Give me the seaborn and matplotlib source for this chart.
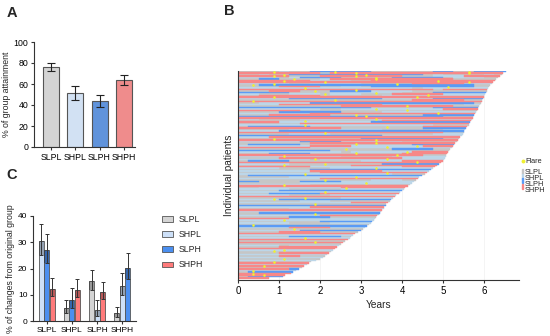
import matplotlib
matplotlib.use("Agg")
import matplotlib.pyplot as plt
from matplotlib.patches import Patch, Rectangle
from matplotlib.lines import Line2D
import numpy as np
import pandas as pd
import seaborn as sns

groups = ["SLPL", "SHPL", "SLPH", "SHPH"]
bar_colors = {"SLPL": "#d4d4d4", "SHPL": "#cde0f8", "SLPH": "#4b8ff0", "SHPH": "#ff7b7b"}
swim_colors = {"g": "#c6c6c6", "l": "#bcd6e8", "b": "#5a9bf5", "r": "#f78888"}
flare_color = "#f0f030"

# A: group attainment
attain_mean = [76, 51, 44, 64]
attain_lo = [72, 45, 38, 59]
attain_hi = [80, 58, 50, 69]

# C: changes from original group
change_from = ["SLPL", "SLPL", "SLPL", "SHPL", "SHPL", "SHPL",
               "SLPH", "SLPH", "SLPH", "SHPH", "SHPH", "SHPH"]
change_to = ["SHPL", "SLPH", "SHPH", "SLPL", "SLPH", "SHPH",
             "SLPL", "SHPL", "SHPH", "SLPL", "SHPL", "SLPH"]
change_mean = [30.5, 27.0, 12.3, 5.0, 8.0, 11.8, 15.2, 4.3, 11.0, 3.0, 13.2, 20.3]
change_lo = [25.0, 22.0, 9.5, 3.0, 5.0, 9.0, 12.0, 2.0, 8.5, 1.5, 10.0, 16.0]
change_hi = [37.0, 33.0, 16.5, 8.0, 12.5, 16.0, 19.5, 8.0, 15.0, 5.3, 18.3, 26.0]

# B: follow-up per patient (years), top to bottom
follow_up = [
    6.53, 6.47, 6.43, 6.38, 6.34, 6.30, 6.27, 6.22, 6.18, 6.15,
    6.12, 6.10, 6.08, 6.06, 6.04, 6.02, 6.00, 5.99, 5.97, 5.96,
    5.94, 5.92, 5.90, 5.88, 5.86, 5.84, 5.82, 5.80, 5.78, 5.76,
    5.74, 5.72, 5.70, 5.68, 5.66, 5.64, 5.62, 5.59, 5.56, 5.53,
    5.51, 5.50, 5.48, 5.45, 5.42, 5.39, 5.36, 5.33, 5.30, 5.27,
    5.24, 5.21, 5.18, 5.15, 5.12, 5.10, 5.08, 5.06, 5.04, 5.02,
    5.00, 4.95, 4.90, 4.85, 4.80, 4.75, 4.70, 4.65, 4.60, 4.55,
    4.48, 4.42, 4.38, 4.35, 4.30, 4.25, 4.20, 4.14, 4.08, 4.04,
    4.00, 3.96, 3.92, 3.86, 3.82, 3.78, 3.74, 3.70, 3.66, 3.62,
    3.60, 3.57, 3.55, 3.52, 3.49, 3.46, 3.43, 3.40, 3.37, 3.34,
    3.31, 3.27, 3.23, 3.20, 3.15, 3.10, 3.05, 3.00, 2.93, 2.86,
    2.80, 2.76, 2.72, 2.67, 2.62, 2.57, 2.52, 2.47, 2.42, 2.36,
    2.32, 2.27, 2.22, 2.17, 2.12, 2.06, 2.00, 1.90, 1.78, 1.72,
    1.68, 1.62, 1.55, 1.48, 1.42, 1.35, 1.28, 1.14, 1.10, 0.76,
]

# state per quarter year: g=SLPL l=SHPL b=SLPH r=SHPH, upper case = flare in that quarter
states = [
    "gggGlggbbBbbbggggggbbgGbbb", "rrrrrrrrgrrRrrrrrrrrrrRrrr", "gglgGbbbbbbbBbbbbbglgggglg",
    "rrrRrgggrrrRrrrrggglllrrrr", "llllglbbbbgggGgbbbbbglllg", "ggbbgGgglrrrrRrrrrrrrgggg",
    "rrrrRrrllllggrrrrrrRrrrrr", "rrrrrrrrRrrrrrrrrrrrrrRrr", "lllLlgglllllgggGgrrrrrlll",
    "gGbbbbbbbbbbbbbbbbbbbbbgg", "ggggrrrrggllgbbbbbbbBbbg", "llllllLllllllllllgllllll",
    "rrrrrrrrrrrRrrrrrrrgrrrr", "gggrrrgGgbbbbllllggggggg", "bbbbbggggllllLllgggbbbbb",
    "llggglllGlllgggrrrrrllll", "ggrrrrrrggggggllllLlllll", "rrrRrrrrrrrrrrrrrRrrrrrr",
    "lllllbbbbbbbbblllllbbbbb", "gggggggggGgggggggrrrrrgg", "rRrrrrrrrrrrrrrrrrrrrrrr",
    "gglllllbbbbbbbbbbbbbbbbg", "llllrrrrrrrrrrlllllllgll", "ggggggggggrrrrrrRrrrrggg",
    "bbbbbbbbbbbbbggggggbbbb", "llllllllgglllLllllllrrr", "rrrrrrggggggggggGggggggg",
    "ggggbbbbbbgggglllllllll", "lllllllrrrrrrrrrrrrRrrr", "gggrrrrrrggGggggggbbbbb",
    "bbbbbbbbbbbbBbbbbbbbggg", "rrrrrrrrrrrrrrrrrrrrrrr", "llgggglllllllLlllllllll",
    "ggggggGgggggggrrrrrrrrr", "rrrrlllllllllbbbbbbbbbb", "ggggggrrrrrrrrrrrrrrrrr",
    "llllllLllllllllllllgg", "gbbbbbbgggggggGgggrrrr", "rrrrrrrrrrggggggggbbbb",
    "ggggglllllllllggggggll", "llllbbbbbbbbbbbbbbbbbb", "rrrrrrrrRrrrrrrrrrrrgg",
    "gggggllllgggggggggglll", "bbbbbbbbbbbbbbllllllll", "lllrrrrrrrrrrrrrrrrrrr",
    "gggGggggggggbbbbbbbbgg", "rrrrrrrrrrrrrRrrrrrrr", "llllllbbbbllllllggggg",
    "gggggggrrrrrrRrrrrrrr", "gbbbbbgggggGgggggbbbb", "lllllllrrrrllllllLrrr",
    "rrrrrrrlllllllLlllllll", "ggggggggggGggggbbbbggg", "bbbbbbbbbgggggggggggg",
    "llllllllllglllllLrrr", "gggbbbbggggGggggrrrr", "rrrrrrrrrrrrrrrRrrgg",
    "llllLlllllggggglllll", "ggggrrrrrrrrrrrrllll", "lllllllGllllllLlllll",
    "gbbbbgggggggllllrrrr", "rrrrrrrrrrrrrrrrrRrr", "lllllgggGgggggbbbbbb",
    "ggggGggggggrrrrrrrr", "rrrrrrrlllllllllrrr", "llllgggggllllLllll",
    "gggggggbbbbbbbbbbbb", "lllllllrrrrrrrllll", "ggggggggrrrrrrRrrr",
    "llllllLllllllllgggg", "gbbbbbbbbbbbbbbbbb", "gggggllllllLllllll",
    "llllllllrrrrrrrrrr", "ggggggggGgggglllg", "bbggggbbbblllllll",
    "ggggggllllllLllll", "llllLllggggggggg", "rrrrrrrrrrrrrrrrr",
    "ggllllllllRrrrrrr", "lllllgggggllllll", "ggggbbbbbbbbbbbb",
    "llllllllLllllll", "gggbbbbbrrrrrrrr", "lllllgggglllllll",
    "rrrrrrrrrrrrrrr", "ggggggGggglllll", "lllLbbbbbbbbbbb",
    "gggggglllgggggg", "lllllllllllrrrr", "gggggggGgggggg",
    "bbbbbbbbbbbbbb", "lllllllrrrrrr", "ggggglllllllll",
    "rrrrrrrrrrrrrr", "llllllllllllll", "ggbbbbbbbbbbbb",
    "gggggggGggggg", "llllllllrrrrr", "gggggbbbbgggg",
    "rrrrrlllllll", "llllLlllllll", "ggggggggbbbb",
    "lllllgggglll", "gGgggggggggg", "bbbbbbbbbbbb",
    "lllllrrrrll", "gggggGggggg", "llllllbbbbb",
    "ggggrrrrgggg", "rrrrrrrrrrr", "lllllllllll",
    "gggggbbbbbgg", "llllllLlll", "rrrrrrrrrr",
    "gggggggggg", "rrrrrrrRrr", "ggggggggg",
    "llllglllll", "ggggrrrrrr", "rrrrrrrrr",
    "llllLllll", "gggGgggg", "ggggrrrr",
    "lllllllll", "ggggrrgg", "llllllll",
    "ggggGggg", "lllllll", "gggGggg",
    "rrrrrrr", "llllll", "rrRrrrr",
    "gggggg", "rrrrrbb", "lLllll",
    "gbbbbb", "rRrrr", "rrRrr",
    "gbbb", "rrr",
]

sns.set_style("ticks")
plt.rcParams["font.family"] = ["Liberation Sans", "DejaVu Sans"]
axis_col = "#333333"

fig = plt.figure(figsize=(5.5, 3.36), dpi=100)
W, H = 550, 336

def px_axes(x0, y0, x1, y1):
    return fig.add_axes([x0 / W, 1 - y1 / H, (x1 - x0) / W, (y1 - y0) / H])

def style_axis(ax, size=6.3):
    for s in ["top", "right"]:
        ax.spines[s].set_visible(False)
    for s in ["left", "bottom"]:
        ax.spines[s].set_color(axis_col)
        ax.spines[s].set_linewidth(0.8)
    ax.tick_params(colors=axis_col, width=0.8, length=2.5, labelsize=size, pad=1.5, labelcolor="black")

# ---- A ----
axA = px_axes(34, 42, 135, 147)
dfA = pd.DataFrame({"group": groups, "value": attain_mean})
sns.barplot(data=dfA, x="group", y="value", hue="group", palette=bar_colors, legend=False,
            width=0.66, edgecolor="#555555", linewidth=0.8, ax=axA)
mA = np.array(attain_mean)
axA.errorbar(range(4), mA, yerr=[mA - np.array(attain_lo), np.array(attain_hi) - mA],
             fmt="none", ecolor="#222222", elinewidth=0.8, capsize=3, capthick=0.8)
axA.set_ylim(0, 100)
axA.set_xlim(-0.7, 3.46)
axA.set_yticks([0, 20, 40, 60, 80, 100])
axA.set_xlabel("")
axA.set_ylabel("% of group attainment", fontsize=6.3, labelpad=2)
style_axis(axA)

# ---- C ----
axC = px_axes(33, 216, 136, 321)
offsets = {}
xs = []
for f in change_from:
    k = offsets.get(f, 0)
    offsets[f] = k + 1
    xs.append(groups.index(f) + (k - 1) * 0.22)
xs = np.array(xs)
mC = np.array(change_mean)
loC = np.array(change_lo)
hiC = np.array(change_hi)
axC.bar(xs, mC, width=0.2, color=[bar_colors[t] for t in change_to],
        edgecolor="#555555", linewidth=0.6)
axC.bar(xs, mC - loC, bottom=loC, width=0.2, color="black", alpha=0.28, linewidth=0)
axC.errorbar(xs, mC, yerr=[mC - loC, hiC - mC], fmt="none", ecolor="#333333",
             elinewidth=0.7, capsize=1.5, capthick=0.7)
axC.set_xticks(range(4))
axC.set_xticklabels(groups)
axC.set_xlim(-0.55, 3.55)
axC.set_ylim(0, 40)
axC.set_yticks([0, 10, 20, 30, 40])
axC.set_ylabel("% of changes from original group", fontsize=6.3, labelpad=2)
style_axis(axC, size=6)
fig.legend(handles=[Patch(facecolor=bar_colors[g], edgecolor="#555555", linewidth=0.6) for g in groups],
           labels=groups, loc="upper left", bbox_to_anchor=(162 / W, 1 - 215 / H),
           frameon=False, fontsize=6.3, labelspacing=0.7, handlelength=1.3, handleheight=0.6,
           handletextpad=0.6, borderpad=0, borderaxespad=0)

# ---- B ----
axB = px_axes(238, 71, 519, 280)
rows = []
flares = []
for i, (dur, s) in enumerate(zip(follow_up, states)):
    low = s.lower()
    start = 0
    for k in range(1, len(low) + 1):
        if k == len(low) or low[k] != low[start]:
            left = start * 0.25
            right = dur if k == len(low) else min(k * 0.25, dur)
            if left < dur:
                rows.append((i, left, right - left, low[start]))
            start = k
    for k, ch in enumerate(s):
        if ch.isupper() and (k + 0.5) * 0.25 < dur:
            flares.append((i, (k + 0.5) * 0.25))
seg = pd.DataFrame(rows, columns=["row", "left", "width", "state"])
fl = pd.DataFrame(flares, columns=["row", "time"])

axB.grid(axis="x", color="#f0f0f0", linewidth=0.5)
axB.set_axisbelow(True)
for st, col in swim_colors.items():
    d = seg[seg["state"] == st]
    axB.barh(d["row"], d["width"], left=d["left"], height=1.0, color=col,
             edgecolor=col, linewidth=0.3)
sns.scatterplot(data=fl, x="time", y="row", color=flare_color, s=3.5, linewidth=0, ax=axB, zorder=3)
axB.set_xlim(0, 6.85)
axB.set_ylim(140.3, -0.5)
axB.set_xticks(range(7))
axB.set_yticks([])
axB.set_xlabel("Years", fontsize=7.3, labelpad=3)
axB.set_ylabel("Individual patients", fontsize=7.3, labelpad=3)
style_axis(axB)
axB.tick_params(labelsize=7)

# B legend
fig.add_artist(Line2D([522.5 / W], [1 - 161 / H], marker="o", color="none",
                      markerfacecolor=flare_color, markeredgewidth=0, markersize=2.8,
                      transform=fig.transFigure))
fig.text(525 / W, 1 - 161 / H, "Flare", fontsize=5.3, va="center", ha="left")
for k, g in enumerate(groups):
    yc = 171 + 5 * k
    fig.add_artist(Rectangle((521.5 / W, 1 - (yc + 2.5) / H), 1.8 / W, 5 / H,
                             color=list(swim_colors.values())[k], transform=fig.transFigure))
fig.text(524.5 / W, 1 - 168.5 / H, "\n".join(groups), fontsize=5.3, va="top", ha="left",
         linespacing=0.82)

# panel letters
fig.text(12 / W, 1 - 13 / H, "A", fontsize=10.5, fontweight="bold", ha="center", va="center")
fig.text(229 / W, 1 - 11 / H, "B", fontsize=10.5, fontweight="bold", ha="center", va="center")
fig.text(12 / W, 1 - 175 / H, "C", fontsize=10.5, fontweight="bold", ha="center", va="center")

fig.savefig("out.png", dpi=100, facecolor="white")
